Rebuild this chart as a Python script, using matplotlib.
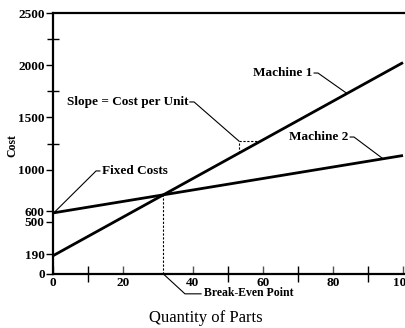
import numpy as np
import matplotlib
matplotlib.use("Agg")
import matplotlib.pyplot as plt

plt.rcParams['font.family'] = ['Liberation Serif', 'DejaVu Serif']

# data
qty = [0, 100]
machine1 = [175, 2025]
machine2 = [585, 1135]
y_ticks = [0, 190, 500, 600, 1000, 1500, 2000, 2500]
y_minor = [1250, 1750, 2250]
x_ticks = [0, 20, 40, 60, 80, 100]
x_minor = [10, 50, 70, 90]

s1 = (machine1[1] - machine1[0]) / (qty[1] - qty[0])
s2 = (machine2[1] - machine2[0]) / (qty[1] - qty[0])
be_x = (machine2[0] - machine1[0]) / (s1 - s2)
be_y = machine1[0] + s1 * be_x

def m1(x):
    return machine1[0] + s1 * x

def m2(x):
    return machine2[0] + s2 * x

fig = plt.figure(figsize=(4.05, 3.28), dpi=100)
W, H = 405, 328
x0, y0 = 53, 274
ppx = 3.5
ax = fig.add_axes([x0 / W, (H - y0) / H, 102 * ppx / W, (y0 - 13) / H])
ax.set_xlim(0, 102)
ax.set_ylim(0, 2500)

ax.plot(qty, machine1, color='black', lw=2.0, solid_capstyle='butt')
ax.plot(qty, machine2, color='black', lw=2.0, solid_capstyle='butt')

# break-even dashed line
ax.plot([be_x, be_x], [0, be_y], color='black', lw=0.8, ls=(0, (2, 1.5)))

# slope triangle
tx1, tx2 = 53.1, 59.4
ax.plot([tx1, tx2], [m1(tx2), m1(tx2)], color='black', lw=0.8, ls=(0, (2, 1.5)))
ax.plot([tx1, tx1], [m1(tx1), m1(tx2)], color='black', lw=0.8, ls=(0, (2, 1.5)))

bold = dict(fontsize=9.5, fontweight='bold', va='center')
lk = dict(color='black', lw=0.8, clip_on=False)

# Machine 1
ax.text(74.0, 1925, 'Machine 1', ha='right', **bold)
ax.plot([74.6, 75.7, 84], [1925, 1925, m1(84)], **lk)
# Machine 2
ax.text(84.3, 1312, 'Machine 2', ha='right', **bold)
ax.plot([84.9, 86.0, 94.3], [1312, 1312, m2(94.3)], **lk)
# Slope
ax.text(38.6, 1648, 'Slope = Cost per Unit', ha='right', **bold)
ax.plot([39.1, 40.3, tx1], [1648, 1648, m1(tx2)], **lk)
# Fixed costs
ax.text(14.0, 987, 'Fixed Costs', ha='left', **bold)
ax.plot([13.4, 12.3, 0.5], [987, 987, machine2[0] + 10], **lk)
# Break-even
ax.text(43.1, -185, 'Break-Even Point', ha='left', fontsize=8.5,
        fontweight='bold', va='center')
ax.plot([be_x, 37.7, 42.3], [0, -190, -190], **lk)

# axes styling
for side in ['left', 'bottom', 'top']:
    ax.spines[side].set_linewidth(1.6)
ax.spines['right'].set_visible(False)

ax.set_yticks(y_ticks)
ax.set_yticklabels([str(v) for v in y_ticks])
ax.set_yticks(y_minor, minor=True)
ax.set_xticks(x_ticks)
ax.set_xticklabels([str(v) for v in x_ticks])
ax.set_xticks(x_minor, minor=True)

ax.tick_params(axis='y', which='major', direction='out', length=5, width=1,
               pad=1, labelsize=9.5)
ax.tick_params(axis='y', which='minor', direction='inout', length=9, width=1)
ax.tick_params(axis='x', which='major', direction='in', length=6, width=1,
               color='#555555', pad=2, labelsize=9.5)
ax.tick_params(axis='x', which='minor', direction='inout', length=11, width=1)
for lab in ax.get_xticklabels() + ax.get_yticklabels():
    lab.set_fontweight('bold')

fig.text(206 / W, 1 - 318 / H, 'Quantity of Parts', ha='center', va='center',
         fontsize=12)
fig.text(12 / W, 1 - 146 / H, 'Cost', ha='center', va='center', rotation=90,
         fontsize=8.5, fontweight='bold')

fig.savefig('out.png', dpi=100)
